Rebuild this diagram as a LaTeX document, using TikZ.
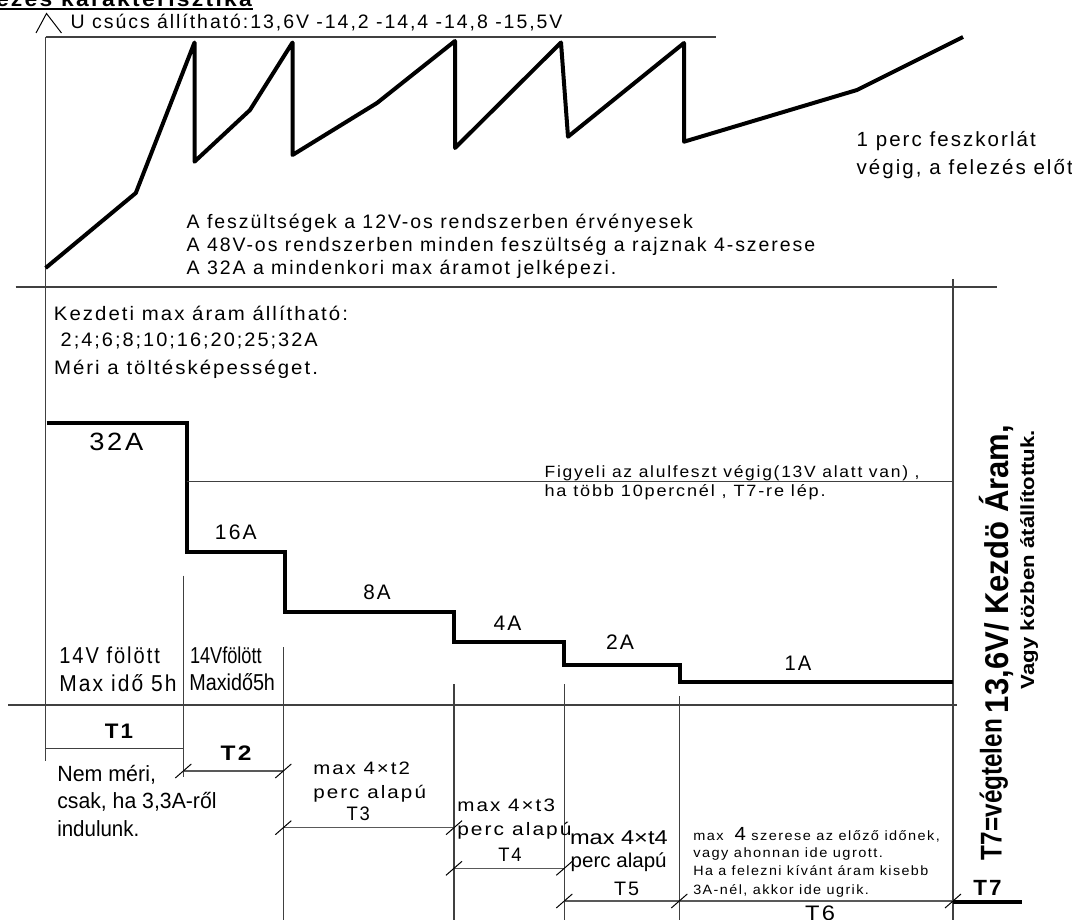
\documentclass[tikz,border=0pt]{standalone}
\usepackage{fontspec}
\setmainfont{Liberation Sans}[LetterSpace=10]
\usepackage{graphicx}
\newsavebox\fitbox
\newcommand\fitw[2]{\sbox\fitbox{#2}\edef\fitscale{\fpeval{(#1)/(\the\wd\fitbox)}}\scalebox{\fitscale}[1]{\usebox\fitbox}}
\newcommand\fs[1]{\fontsize{#1}{#1}\selectfont}
\newcommand\notrack{\addfontfeature{LetterSpace=0}}
\begin{document}
\begin{tikzpicture}[x=1pt,y=-1pt,
  every node/.style={inner sep=0pt,outer sep=0pt},
  thinln/.style={line width=1.2pt,draw=black!75},
  dimln/.style={line width=1.1pt,draw=black!65},
  thickln/.style={line width=4pt,draw=black,line join=round},
  stairln/.style={line width=4pt,draw=black,line join=miter},
  tickln/.style={line width=1pt,draw=black}]
\useasboundingbox (0,0) rectangle (1072,920);
\fill[white] (0,0) rectangle (1072,920);
\newcommand\tickat[2]{\draw[tickln] (#1-8,#2+7) -- ++(16,-14);}

% title
\node[anchor=base west] (title) at (-4,6.2) {\fs{21}\bfseries\fitw{256}{ezés karakterisztika}};
\draw[line width=2pt] (0,8.7) -- (253,8.7);

% voltage axis and header
\draw[thinln] (45.7,37) -- (45.7,761);
\draw[line width=1pt] (36,33) -- (46.5,13.5) -- (61.5,33);
\node[anchor=base west] (ucs) at (70.7,28.3) {\fs{19.5}U csúcs állítható:13,6V -14,2 -14,4 -14,8 -15,5V};
\draw[thinln] (45.7,37) -- (716,37);

% voltage waveform
\draw[thickln] (45.6,268) -- (135.8,193) -- (194.5,42.5) -- (194.5,161.7) -- (250,110) -- (292.5,42.5)
  -- (292.5,155) -- (377,103) -- (455,41) -- (455,148) -- (561,42.5) -- (568,136.7) -- (684,43)
  -- (684,141.7) -- (857,90) -- (963,37);

\node[anchor=base west] (perc1) at (856.7,147) {\fs{20.5}1 perc feszkorlát};
\node[anchor=base west] (perc2) at (856.7,175) {\fs{20.5}végig, a felezés előtt};

\node[anchor=base west] (n1) at (186.7,229) {\fs{19.5}A feszültségek a 12V-os rendszerben érvényesek};
\node[anchor=base west] (n2) at (186.7,251.5) {\fs{19.5}A 48V-os rendszerben minden feszültség a rajznak 4-szerese};
\node[anchor=base west] (n3) at (186.7,274.5) {\fs{19.5}A 32A a mindenkori max áramot jelképezi.};

% separators
\draw[thinln] (15.7,287) -- (997,287);
\draw[thinln] (953,279) -- (953,920);

\node[anchor=base west] (k1) at (54,320) {\fs{19.5}\fitw{294}{Kezdeti max áram állítható:}};
\node[anchor=base west] (k2) at (60.7,346.7) {\fs{19.5}\fitw{257}{2;4;6;8;10;16;20;25;32A}};
\node[anchor=base west] (k3) at (54,374.3) {\fs{19.5}\fitw{264}{Méri a töltésképességet.}};

% current staircase
\draw[stairln] (46.7,423.3) -| (186.7,552.3) -| (285,612.3) -| (454,642) -| (564,665) -| (680,681.5) -- (953,681.5);

\node[anchor=base] (a32) at (116.3,450) {\fs{25}\fitw{54}{32A}};
\node[anchor=base] (a16) at (235.8,539.3) {\fs{21}\fitw{41.7}{16A}};
\node[anchor=base] (a8) at (377,599) {\fs{21}\fitw{27.3}{8A}};
\node[anchor=base] (a4) at (507.5,630.7) {\fs{21}\fitw{27.8}{4A}};
\node[anchor=base] (a2) at (620,649) {\fs{21}\fitw{28}{2A}};
\node[anchor=base] (a1) at (798,670.7) {\fs{21}\fitw{26.7}{1A}};

\draw[thinln] (187,481.7) -- (953,481.7);
\node[anchor=base west] (fig1) at (544.6,477.3) {\fs{16.3}\fitw{375}{Figyeli az alulfeszt végig(13V alatt van) ,}};
\node[anchor=base west] (fig2) at (544.6,496.7) {\fs{16.3}\fitw{281}{ha több 10percnél , T7-re lép.}};

% lower verticals
\draw[thinln] (183.3,575.7) -- (183.3,777);
\draw[thinln] (283.3,647) -- (283.3,920);
\draw[thinln] (454,684) -- (454,920);
\draw[thinln] (564.3,684) -- (564.3,920);
\draw[thinln] (679.3,696) -- (679.3,920);

\node[anchor=base west] (v1a) at (59.3,663.3) {\fs{23}\fitw{100.7}{14V fölött}};
\node[anchor=base west] (v1b) at (59.3,691) {\fs{23}\fitw{117.4}{Max idő 5h}};
\node[anchor=base west] (v2a) at (190,663.3) {\fs{23}\notrack\fitw{71.7}{14Vfölött}};
\node[anchor=base west] (v2b) at (189.3,690.5) {\fs{23}\notrack\fitw{85.7}{Maxidő5h}};

\draw[thinln] (8.3,705) -- (957,705);
\draw[thinln] (45.7,748.3) -- (183.3,748.3);

% dimension lines
\draw[dimln] (183.3,771) -- (283.3,771);
\draw[dimln] (283.3,827.7) -- (454,827.7);
\draw[dimln] (454,868.3) -- (564.3,868.3);
\draw[dimln] (564.3,901) -- (953,901);
\tickat{183.3}{771}
\tickat{283.3}{771}
\tickat{283.3}{827.7}
\tickat{454}{827.7}
\tickat{454}{868.3}
\tickat{564.3}{868.3}
\tickat{564.3}{901}
\tickat{679.3}{901}
\tickat{953}{901}
\draw[line width=4pt] (953,901.7) -- (1021.7,901.7);

\node[anchor=base] (t1) at (119,738.3) {\fs{21}\bfseries\fitw{28.3}{T1}};
\node[anchor=base] (t2) at (236,760.7) {\fs{21}\bfseries\fitw{31}{T2}};
\node[anchor=base west] (nm1) at (57.3,781) {\fs{22}\notrack\fitw{98.7}{Nem méri,}};
\node[anchor=base west] (nm2) at (57.3,808.3) {\fs{22}\notrack\fitw{159.3}{csak, ha 3,3A-ről}};
\node[anchor=base west] (nm3) at (57.3,836.7) {\fs{22}\notrack\fitw{82}{indulunk.}};

\node[anchor=base west] (m2) at (313.3,774) {\fs{18}\fitw{96.7}{max 4×t2}};
\node[anchor=base west] (p2) at (313.3,798.3) {\fs{18}\fitw{112.7}{perc alapú}};
\node[anchor=base] (t3) at (358.3,820) {\fs{19.5}\fitw{23.3}{T3}};

\node[anchor=base west] (m3) at (457.3,811.7) {\fs{18}\fitw{97.7}{max 4×t3}};
\node[anchor=base west] (p3) at (457.3,835) {\fs{18}\fitw{114.3}{perc alapú}};
\node[anchor=base] (t4) at (510,861.7) {\fs{19.5}\fitw{23.3}{T4}};

\node[anchor=base west] (m4) at (570,844) {\fs{20}\notrack\fitw{97.7}{max 4×t4}};
\node[anchor=base west] (p4) at (570.7,867.3) {\fs{20}\notrack\fitw{96}{perc alapú}};
\node[anchor=base] (t5) at (626.7,895) {\fs{19.5}\fitw{25}{T5}};

\node[anchor=base west] (b1) at (693.3,840) {\fs{13.5}\fitw{246.7}{max\ \ {\fs{19}4} szerese az előző időnek,}};
\node[anchor=base west] (b2) at (693.3,857.3) {\fs{13.5}\fitw{189.7}{vagy ahonnan ide ugrott.}};
\node[anchor=base west] (b3) at (693.3,875.7) {\fs{13.5}\fitw{235}{Ha a felezni kívánt áram kisebb}};
\node[anchor=base west] (b4) at (693.3,894) {\fs{13.5}\fitw{175.7}{3A-nél, akkor ide ugrik.}};
\node[anchor=base] (t6) at (820,920) {\fs{21}\fitw{30}{T6}};

\node[anchor=base west] (t7) at (973.3,895) {\fs{22}\bfseries\fitw{28.4}{T7}};

% rotated labels
\node[rotate=90,anchor=base west] (t7v) at (1001.5,860) {\fs{30}\bfseries\notrack\fitw{141}{T7=végtelen}};
\node[rotate=90,anchor=base west] (kez) at (1008,713) {\fs{33}\bfseries\notrack\fitw{288}{13,6V/ Kezdö Áram,}};
\node[rotate=90,anchor=base west] (vagy) at (1034,689) {\fs{19}\bfseries\notrack\fitw{259}{Vagy közben átállítottuk.}};
\end{tikzpicture}
\end{document}
